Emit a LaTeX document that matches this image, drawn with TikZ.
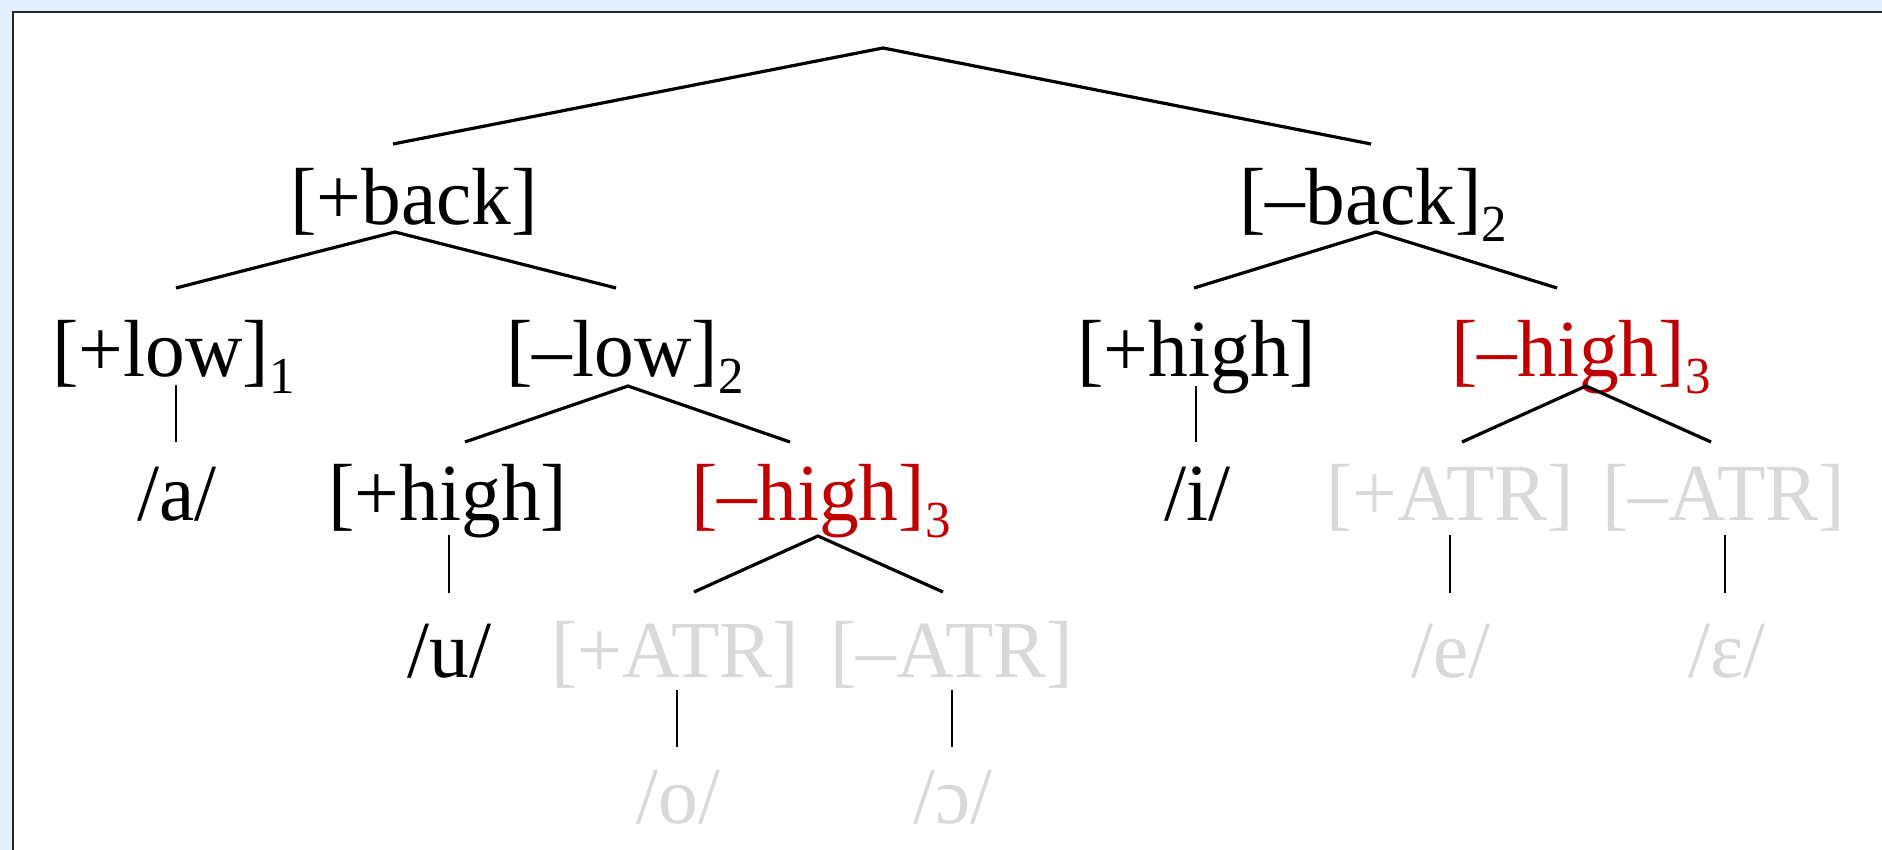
\documentclass[tikz,border=0pt]{standalone}
\usepackage{fontspec}
\setmainfont{Liberation Serif}[FakeStretch=0.98]
\definecolor{featred}{HTML}{C00000}
\definecolor{ghost}{HTML}{D9D9D9}
\definecolor{bgblue}{HTML}{E2EFFC}
\newcommand\subn[1]{\raisebox{-8.5pt}{\fontsize{26}{26}\selectfont #1}}
\begin{document}
\begin{tikzpicture}[x=0.5pt,y=-0.5pt,
  lbl/.style={anchor=base west, inner sep=0pt, font=\fontsize{40.5}{40.5}\selectfont},
  redlbl/.style={lbl, text=featred},
  ghostlbl/.style={lbl, text=ghost},
  branch/.style={line width=1.6pt, line cap=butt},
  unary/.style={line width=0.8pt}]
\useasboundingbox (0,0) rectangle (1882,850);
\clip (0,0) rectangle (1882,850);
\fill[bgblue] (0,0) rectangle (1882,850);
\draw[fill=white, draw=black!85, line width=1.1pt] (13,12) rectangle (1920,900);

% row 1
\node[lbl] (back) at (290,225) {[+back]};
\node[lbl] (nback) at (1239,225) {[–back]\subn{2}};
% row 2
\node[lbl] (low) at (52,376) {[+low]\subn{1}};
\node[lbl] (nlow) at (506,376) {[–low]\subn{2}};
\node[lbl] (highR) at (1077,376) {[+high]};
\node[redlbl] (nhighR) at (1451,376) {[–high]\subn{3}};
% row 3
\node[lbl] (a) at (137,520) {/a/};
\node[lbl] (highL) at (328,520) {[+high]};
\node[redlbl] (nhighL) at (691,520) {[–high]\subn{3}};
\node[lbl] (i) at (1164,520) {/i/};
\node[ghostlbl] (atrR) at (1326,520) {[+ATR]};
\node[ghostlbl] (natrR) at (1602,520) {[–ATR]};
% row 4
\node[lbl] (u) at (407,677) {/u/};
\node[ghostlbl] (atrL) at (551,677) {[+ATR]};
\node[ghostlbl] (natrL) at (830,677) {[–ATR]};
\node[ghostlbl] (e) at (1411,677) {/e/};
\node[ghostlbl] (eps) at (1688,677) {/ɛ/};
% row 5
\node[ghostlbl] (o) at (636,823) {/o/};
\node[ghostlbl] (oo) at (913,823) {/ɔ/};

% connector coordinates
\coordinate (root) at (883,48);
\coordinate (root-l) at (393,144);
\coordinate (root-r) at (1371,144);
\coordinate (back-a) at (395,232);
\coordinate (back-l) at (176,288);
\coordinate (back-r) at (616,288);
\coordinate (nback-a) at (1376,232);
\coordinate (nback-l) at (1194,288);
\coordinate (nback-r) at (1557,288);
\coordinate (low-a) at (176,385);
\coordinate (low-b) at (176,442);
\coordinate (nlow-a) at (628,386);
\coordinate (nlow-l) at (465,442);
\coordinate (nlow-r) at (790,442);
\coordinate (highR-a) at (1196,386);
\coordinate (highR-b) at (1196,442);
\coordinate (nhighR-a) at (1586,386);
\coordinate (nhighR-l) at (1462,442);
\coordinate (nhighR-r) at (1711,442);
\coordinate (highL-a) at (449,535);
\coordinate (highL-b) at (449,593);
\coordinate (nhighL-a) at (818,536);
\coordinate (nhighL-l) at (694,592);
\coordinate (nhighL-r) at (943,592);
\coordinate (atrR-a) at (1450,535);
\coordinate (atrR-b) at (1450,593);
\coordinate (natrR-a) at (1725,535);
\coordinate (natrR-b) at (1725,593);
\coordinate (atrL-a) at (677,690);
\coordinate (atrL-b) at (677,747);
\coordinate (natrL-a) at (952,690);
\coordinate (natrL-b) at (952,747);

\draw[branch] (root-l) -- (root) -- (root-r);
\draw[branch] (back-l) -- (back-a) -- (back-r);
\draw[branch] (nback-l) -- (nback-a) -- (nback-r);
\draw[branch] (nlow-l) -- (nlow-a) -- (nlow-r);
\draw[branch] (nhighR-l) -- (nhighR-a) -- (nhighR-r);
\draw[branch] (nhighL-l) -- (nhighL-a) -- (nhighL-r);
\draw[unary] (low-a) -- (low-b);
\draw[unary] (highR-a) -- (highR-b);
\draw[unary] (highL-a) -- (highL-b);
\draw[unary] (atrR-a) -- (atrR-b);
\draw[unary] (natrR-a) -- (natrR-b);
\draw[unary] (atrL-a) -- (atrL-b);
\draw[unary] (natrL-a) -- (natrL-b);
\end{tikzpicture}
\end{document}
